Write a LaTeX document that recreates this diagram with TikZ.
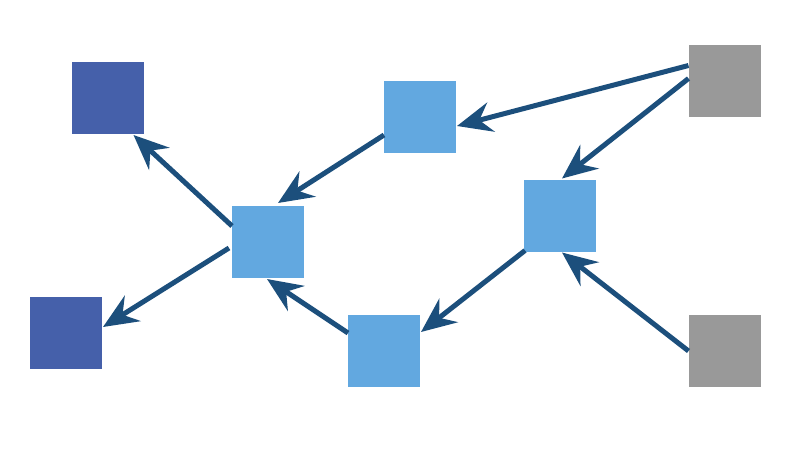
\documentclass[tikz,border=0pt]{standalone}
\usetikzlibrary{arrows.meta}
\definecolor{darkbox}{RGB}{69,96,170}
\definecolor{lightbox}{RGB}{98,168,224}
\definecolor{graybox}{RGB}{153,153,153}
\definecolor{arrowcol}{RGB}{28,79,124}
\tikzset{
  sq/.style={minimum size=72pt,inner sep=0pt,outer sep=0pt,draw=none},
  darksq/.style={sq,fill=darkbox},
  lightsq/.style={sq,fill=lightbox},
  graysq/.style={sq,fill=graybox},
  conn/.style={draw=arrowcol,line width=5pt,-{Stealth[length=35pt,width=30pt,inset=12pt]}}
}
\begin{document}
\begin{tikzpicture}[x=1pt,y=-1pt]
\useasboundingbox (0,0) rectangle (785,461);
\node[darksq] (A) at (107.5,98) {};
\node[darksq] (B) at (66,333) {};
\node[lightsq] (C) at (268,242) {};
\node[lightsq] (D) at (420,117) {};
\node[lightsq] (E) at (560,215.5) {};
\node[lightsq] (F) at (384,351) {};
\node[graysq] (G) at (724.5,80.5) {};
\node[graysq] (H) at (724.5,351) {};
\draw[conn] ([yshift=15pt]G.west) -- ([xshift=1pt,yshift=-9pt]D.east);
\draw[conn] ([yshift=2pt]G.west) -- ([xshift=2pt,yshift=1pt]E.north);
\draw[conn] ([yshift=-18pt]D.west) -- ([xshift=10pt,yshift=3pt]C.north);
\draw[conn] ([xshift=1pt,yshift=1pt]E.south west) -- ([xshift=1pt,yshift=19pt]F.east);
\draw[conn] (H.west) -- ([xshift=2pt,yshift=-1pt]E.south);
\draw[conn] ([yshift=18pt]F.west) -- ([xshift=-1pt,yshift=-1pt]C.south);
\draw[conn] ([yshift=16pt]C.west) -- ([xshift=26pt,yshift=-1pt]A.south);
\draw[conn] ([xshift=-3pt,yshift=-6pt]C.west) -- ([xshift=1pt,yshift=6pt]B.east);
\end{tikzpicture}
\end{document}
